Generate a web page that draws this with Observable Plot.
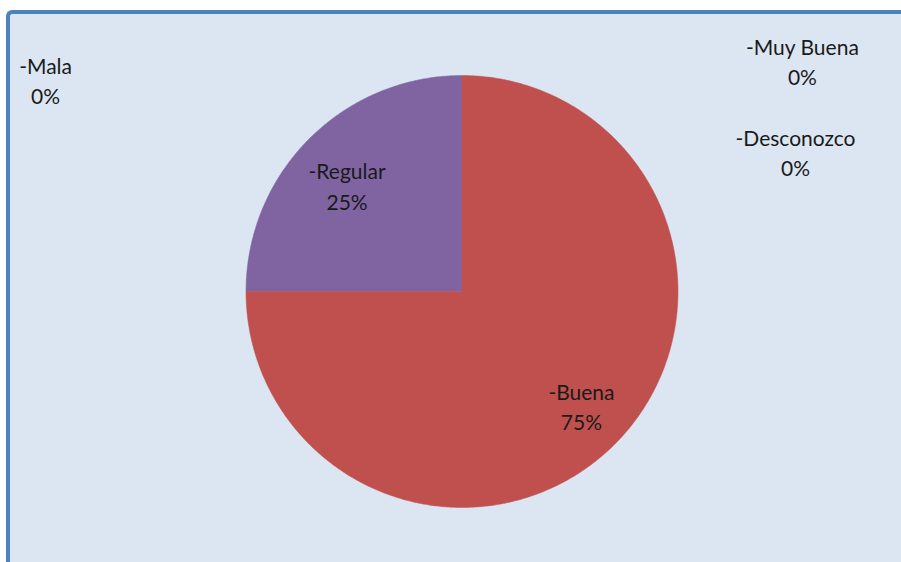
<!DOCTYPE html>
<html><head><meta charset="utf-8">
<script src="https://cdn.jsdelivr.net/npm/d3@7"></script>
<script src="https://cdn.jsdelivr.net/npm/@observablehq/plot@0.6"></script>
<style>
html,body{margin:0;padding:0;background:#fff;}
#wrap{position:relative;width:901px;height:562px;overflow:hidden;}
#panel{position:absolute;left:6px;top:10px;right:-10px;bottom:-10px;background:#dce6f2;border-left:4px solid #4f81bd;border-top:4px solid #4f81bd;border-top-left-radius:6px;}
#chart{position:absolute;left:0;top:0;}
</style></head><body>
<div id="wrap"><div id="panel"></div><div id="chart"></div></div>
<script>
// Data
const categories = ["Mala", "Regular", "Buena", "Muy Buena", "Desconozco"];
const values = [0, 25, 75, 0, 0];
const percentLabels = ["0%", "25%", "75%", "0%", "0%"];
// Styles / layout (kept separate from data)
const colors = ["#4f81bd", "#8064a2", "#c0504d", "#9bbb59", "#4bacc6"];
const labelX = [-1.928, -0.532, 0.553, 1.576, 1.544];
const labelY = [0.965, 0.475, -0.544, 1.053, 0.630];

const rows = categories.map((c, i) => ({category: c, value: values[i], pct: percentLabels[i], lx: labelX[i], ly: labelY[i]}));

// Pie angles (0 = 12 o'clock, clockwise)
const arcs = d3.pie().sort(null).value(d => d.value)
  .startAngle(-Math.PI / 2).endAngle(3 * Math.PI / 2)(rows);

const slicePoints = [];
for (const a of arcs) {
  if (a.endAngle - a.startAngle <= 0) continue;
  const cat = a.data.category;
  slicePoints.push({category: cat, x: 0, y: 0});
  const n = Math.max(2, Math.ceil((a.endAngle - a.startAngle) / (Math.PI / 360)));
  for (let k = 0; k <= n; k++) {
    const t = a.startAngle + (a.endAngle - a.startAngle) * k / n;
    slicePoints.push({category: cat, x: Math.sin(t), y: Math.cos(t)});
  }
  slicePoints.push({category: cat, x: 0, y: 0});
}

const cx = 461.5, cy = 291, r = 216;
const chart = Plot.plot({
  width: 901,
  height: 562,
  margin: 0,
  style: {background: "transparent", fontFamily: "Lato, 'Open Sans', sans-serif", fontSize: "21px"},
  x: {domain: [-1, 1], range: [cx - r, cx + r], axis: null},
  y: {domain: [-1, 1], range: [cy + r, cy - r], axis: null},
  color: {domain: categories, range: colors},
  marks: [
    Plot.line(slicePoints, {x: "x", y: "y", z: "category", fill: "category", stroke: "category", strokeWidth: 0.5, curve: "linear"}),
    Plot.text(rows, {x: "lx", y: "ly", text: d => `-${d.category}\n${d.pct}`, lineHeight: 1.45, fontSize: 21, fill: "#1a1a1a", textAnchor: "middle", dy: -4})
  ]
});
document.getElementById("chart").appendChild(chart);
</script>
</body></html>
